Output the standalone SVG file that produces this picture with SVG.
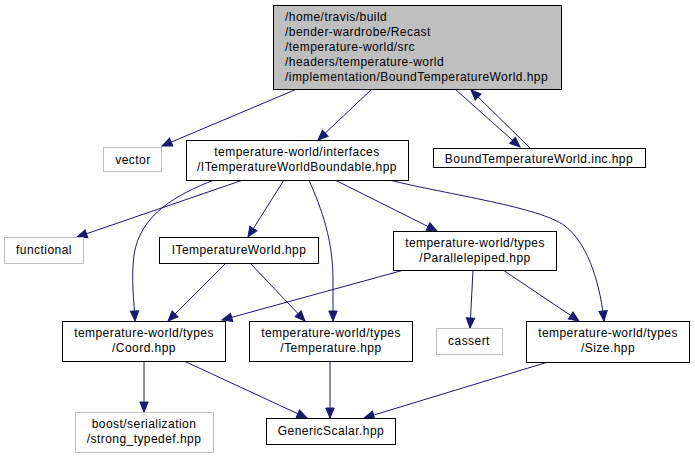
<svg xmlns="http://www.w3.org/2000/svg" width="695" height="459" viewBox="0 0 695 459">
<style>
text{font-family:"Liberation Sans",Arial,sans-serif;font-size:12px;letter-spacing:0.45px;fill:#000}
.c{text-anchor:middle}
.n{fill:#fff;stroke:#000;stroke-width:1}
.g{fill:#fff;stroke:#bfbfbf;stroke-width:1}
.r{fill:#bfbfbf;stroke:#000;stroke-width:1}
.e{fill:none;stroke:#191970;stroke-width:1;marker-end:url(#a)}
</style>
<defs>
<marker id="a" markerUnits="userSpaceOnUse" markerWidth="14" markerHeight="12" refX="10" refY="0" viewBox="-1 -6 13 12" orient="auto">
<path d="M0,-4.2 L10,0 L0,4.2 z" fill="#191970" stroke="#191970"/>
</marker>
</defs>
<rect width="695" height="459" fill="#fff"/>
<g id="edges">
<path class="e" d="M297,89 L162,146"/>
<path class="e" d="M372,89 L318,140"/>
<path class="e" d="M455,89 L520,147"/>
<path class="e" d="M530,148 L471,90"/>
<path class="e" d="M243,180 L77,237"/>
<path class="e" d="M214,180 C178,194 140,214 134,255 C131,280 134,300 135,321"/>
<path class="e" d="M284,180 L248,237"/>
<path class="e" d="M309,180 C322,210 333,240 333,280 L333,321"/>
<path class="e" d="M335,180 L437,231"/>
<path class="e" d="M389,180 C450,195 540,207 565,226 C590,245 601,290 604,321"/>
<path class="e" d="M226,263 L168,321"/>
<path class="e" d="M250,263 L305,321"/>
<path class="e" d="M404,270 L222,320"/>
<path class="e" d="M473,270 L470,328"/>
<path class="e" d="M503,270 L579,321"/>
<path class="e" d="M144,361 L144,412"/>
<path class="e" d="M184,361 L307,418"/>
<path class="e" d="M330,361 L330,418"/>
<path class="e" d="M548,362 L364,418"/>
</g>
<g id="root">
<rect class="r" x="273.5" y="5.5" width="288" height="84"/>
<text x="285" y="21">/home/travis/build</text>
<text x="285" y="36">/bender-wardrobe/Recast</text>
<text x="285" y="51">/temperature-world/src</text>
<text x="285" y="66">/headers/temperature-world</text>
<text x="285" y="81">/implementation/BoundTemperatureWorld.hpp</text>
</g>
<g id="vector">
<rect class="g" x="103.5" y="147.5" width="58" height="24"/>
<text class="c" x="133" y="164">vector</text>
</g>
<g id="interfaces">
<rect class="n" x="186.5" y="140.5" width="222" height="40"/>
<text class="c" x="297" y="156">temperature-world/interfaces</text>
<text class="c" x="297" y="171">/ITemperatureWorldBoundable.hpp</text>
</g>
<g id="inc">
<rect class="n" x="433.5" y="148.5" width="212" height="19"/>
<text class="c" x="539" y="162.5">BoundTemperatureWorld.inc.hpp</text>
</g>
<g id="functional">
<rect class="g" x="4.5" y="237.5" width="79" height="26"/>
<text class="c" x="44" y="254">functional</text>
</g>
<g id="itw">
<rect class="n" x="159.5" y="237.5" width="159" height="26"/>
<text class="c" x="239" y="254">ITemperatureWorld.hpp</text>
</g>
<g id="parallelepiped">
<rect class="n" x="393.5" y="231.5" width="163" height="39"/>
<text class="c" x="475" y="247">temperature-world/types</text>
<text class="c" x="475" y="262">/Parallelepiped.hpp</text>
</g>
<g id="coord">
<rect class="n" x="62.5" y="321.5" width="163" height="40"/>
<text class="c" x="144" y="337">temperature-world/types</text>
<text class="c" x="144" y="352">/Coord.hpp</text>
</g>
<g id="temperature">
<rect class="n" x="249.5" y="321.5" width="163" height="40"/>
<text class="c" x="331" y="337">temperature-world/types</text>
<text class="c" x="331" y="352">/Temperature.hpp</text>
</g>
<g id="cassert">
<rect class="g" x="436.5" y="328.5" width="66" height="26"/>
<text class="c" x="469" y="345">cassert</text>
</g>
<g id="size">
<rect class="n" x="526.5" y="321.5" width="163" height="41"/>
<text class="c" x="608" y="337">temperature-world/types</text>
<text class="c" x="608" y="352">/Size.hpp</text>
</g>
<g id="boost">
<rect class="g" x="75.5" y="412.5" width="138" height="40"/>
<text class="c" x="144" y="428">boost/serialization</text>
<text class="c" x="144" y="443">/strong_typedef.hpp</text>
</g>
<g id="genericscalar">
<rect class="n" x="266.5" y="418.5" width="129" height="26"/>
<text class="c" x="331" y="435">GenericScalar.hpp</text>
</g>
</svg>
